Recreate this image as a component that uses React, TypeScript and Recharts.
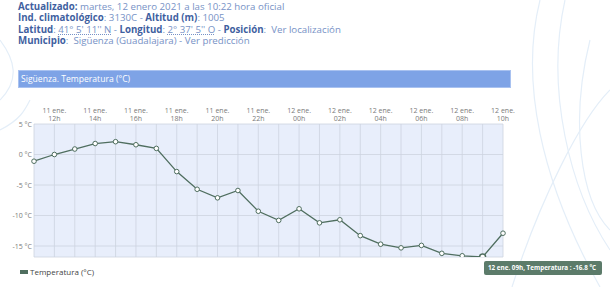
import React from "react";
import {
  CartesianGrid, Line, LineChart, ReferenceArea, Tooltip, XAxis, YAxis,
} from "recharts";

// 11 ene. 11h -> 12 ene. 10h, una lectura por hora
const fechas = [
  "11 ene.", "11 ene.", "11 ene.", "11 ene.", "11 ene.", "11 ene.", "11 ene.",
  "11 ene.", "11 ene.", "11 ene.", "11 ene.", "11 ene.", "11 ene.",
  "12 ene.", "12 ene.", "12 ene.", "12 ene.", "12 ene.", "12 ene.", "12 ene.",
  "12 ene.", "12 ene.", "12 ene.", "12 ene.",
];
const horas = [
  "11h", "12h", "13h", "14h", "15h", "16h", "17h", "18h", "19h", "20h", "21h", "22h", "23h",
  "00h", "01h", "02h", "03h", "04h", "05h", "06h", "07h", "08h", "09h", "10h",
];
const temperaturas = [
  -1.1, 0.0, 0.9, 1.8, 2.1, 1.6, 1.0, -2.8, -5.7, -7.1, -5.9, -9.3, -10.8,
  -8.9, -11.2, -10.7, -13.3, -14.7, -15.3, -14.9, -16.2, -16.6, -16.8, -12.9,
];
const yTicks = [5, 0, -5, -10, -15];
const yDomain: [number, number] = [-16.8, 5];
const activeIndex = 22;

const data = horas.map((hora, i) => ({ key: `${fechas[i]} ${hora}`, idx: i, temp: temperaturas[i] }));

const LINE = "#4f6e5f";
const FONT = "'Open Sans', 'Noto Sans', sans-serif";

function HourTick({ x, y, payload, index }: { x?: number; y?: number; payload?: { value: string; index?: number }; index?: number }) {
  const i = payload?.index ?? index ?? 0;
  if (i % 2 === 0) return null;
  return <text x={x} y={y} textAnchor="middle" fontSize={7} fill="#7a7a7a" fontFamily={FONT}>
    <tspan x={x} dy={-3}>{fechas[i]}</tspan>
    <tspan x={x} dy={8}>{horas[i]}</tspan>
  </text>;
}

function TempTick({ x, y, payload }: { x?: number; y?: number; payload?: { value: number } }) {
  return <text x={x} y={y} dy={2.5} textAnchor="end" fontSize={7} fill="#7a7a7a" fontFamily={FONT}>{`${payload?.value} °C`}</text>;
}

function TempTooltip({ active, payload }: { active?: boolean; payload?: Array<{ value?: number; payload?: { key: string } }> }) {
  if (!active || !payload?.length) return null;
  const item = payload[0];
  return <div style={{
    background: "#5c7b6a", color: "#fff", fontFamily: FONT, fontWeight: 700, fontSize: 6.3,
    padding: "2px 4px", borderRadius: 2, whiteSpace: "nowrap", lineHeight: "10px", width: 110,
  }}>{`${item.payload?.key}, Temperatura : ${Number(item.value).toFixed(1)} °C`}</div>;
}

const lbl: React.CSSProperties = { color: "#3f5f9f", fontWeight: 700 };
const val: React.CSSProperties = { color: "#7792c6" };
const dotted: React.CSSProperties = { ...val, textDecoration: "underline dotted" };

export default function App() {
  return <div style={{ position: "relative", width: 610, height: 287, background: "#fff", overflow: "hidden", fontFamily: FONT }}>
    <style>{"body{margin:0}"}</style>
    <svg width={610} height={287} style={{ position: "absolute", left: 0, top: 0 }}>
      <g fill="none" stroke="#e4eef8" strokeWidth={1.2}>
        <path d="M540 0 C 520 80, 540 180, 600 287"/>
        <path d="M565 0 C 545 90, 570 190, 610 250"/>
        <path d="M590 40 C 570 120, 580 200, 610 230"/>
        <path d="M512 287 C 540 200, 580 120, 610 90"/>
        <path d="M0 40 C 15 60, 20 80, 0 100"/>
        <path d="M0 130 C 20 120, 25 110, 30 100"/>
      </g>
    </svg>
    <div style={{ position: "absolute", left: 18, top: 1, fontSize: 9.7, lineHeight: "11.3px", whiteSpace: "nowrap" }}>
      <div><span style={lbl}>Actualizado:</span> <span style={val}>martes, 12 enero 2021 a las 10:22 hora oficial</span></div>
      <div><span style={lbl}>Ind. climatológico</span><span style={val}>: 3130C - </span> <span style={lbl}>Altitud (m)</span><span style={val}>: 1005</span></div>
      <div><span style={lbl}>Latitud</span><span style={val}>: </span><span style={dotted}>41° 5' 11'' N</span><span style={val}> - </span><span style={lbl}>Longitud</span><span style={val}>: </span><span style={dotted}>2° 37' 5'' O</span><span style={val}> - </span> <span style={lbl}>Posición</span><span style={val}>:&nbsp; Ver localización</span></div>
      <div><span style={lbl}>Municipio</span><span style={val}>:&nbsp; Sigüenza (Guadalajara) - Ver predicción</span></div>
    </div>
    <div style={{
      position: "absolute", left: 18, top: 70, width: 489, height: 16, background: "#7ea3e6",
      border: "1px solid #a9c2f0", color: "#fff", fontSize: 8.6, lineHeight: "16px", paddingLeft: 2,
    }}>Sigüenza. Temperatura (°C)</div>
    <div style={{ position: "absolute", left: 0, top: 0 }}>
      <LineChart width={610} height={287} data={data} margin={{ top: 100, right: 107, bottom: 30, left: 0 }}>
        <CartesianGrid stroke="#cdd3df" strokeWidth={0.8} fill="#e8eefb" fillOpacity={1}/>
        <XAxis dataKey="key" orientation="top" height={24} interval={0} tick={<HourTick/>} tickLine={false} axisLine={false}/>
        <YAxis width={34} domain={yDomain} ticks={yTicks} allowDataOverflow tickSize={2} tickMargin={0}
          tickLine={false} axisLine={false} tick={<TempTick/>}/>
        <ReferenceArea fill="none" stroke="#9fbbee" strokeWidth={1}/>
        <Tooltip defaultIndex={activeIndex} active cursor={false} position={{ x: 484, y: 261 }}
          isAnimationActive={false} content={<TempTooltip/>} wrapperStyle={{ outline: "none" }}/>
        <Line type="linear" dataKey="temp" name="Temperatura (°C)" stroke={LINE} strokeWidth={1.3}
          dot={{ r: 2.3, fill: "#fff", stroke: LINE, strokeWidth: 1 }}
          activeDot={{ r: 3, fill: "#fff", stroke: LINE, strokeWidth: 1.5 }}
          isAnimationActive={false}/>
      </LineChart>
    </div>
    <div style={{ position: "absolute", left: 20, top: 266, fontSize: 8, color: "#444", display: "flex", alignItems: "center", whiteSpace: "nowrap" }}>
      <i style={{ display: "inline-block", width: 8, height: 4, background: LINE, marginRight: 2 }}/>Temperatura (°C)
    </div>
  </div>;
}
